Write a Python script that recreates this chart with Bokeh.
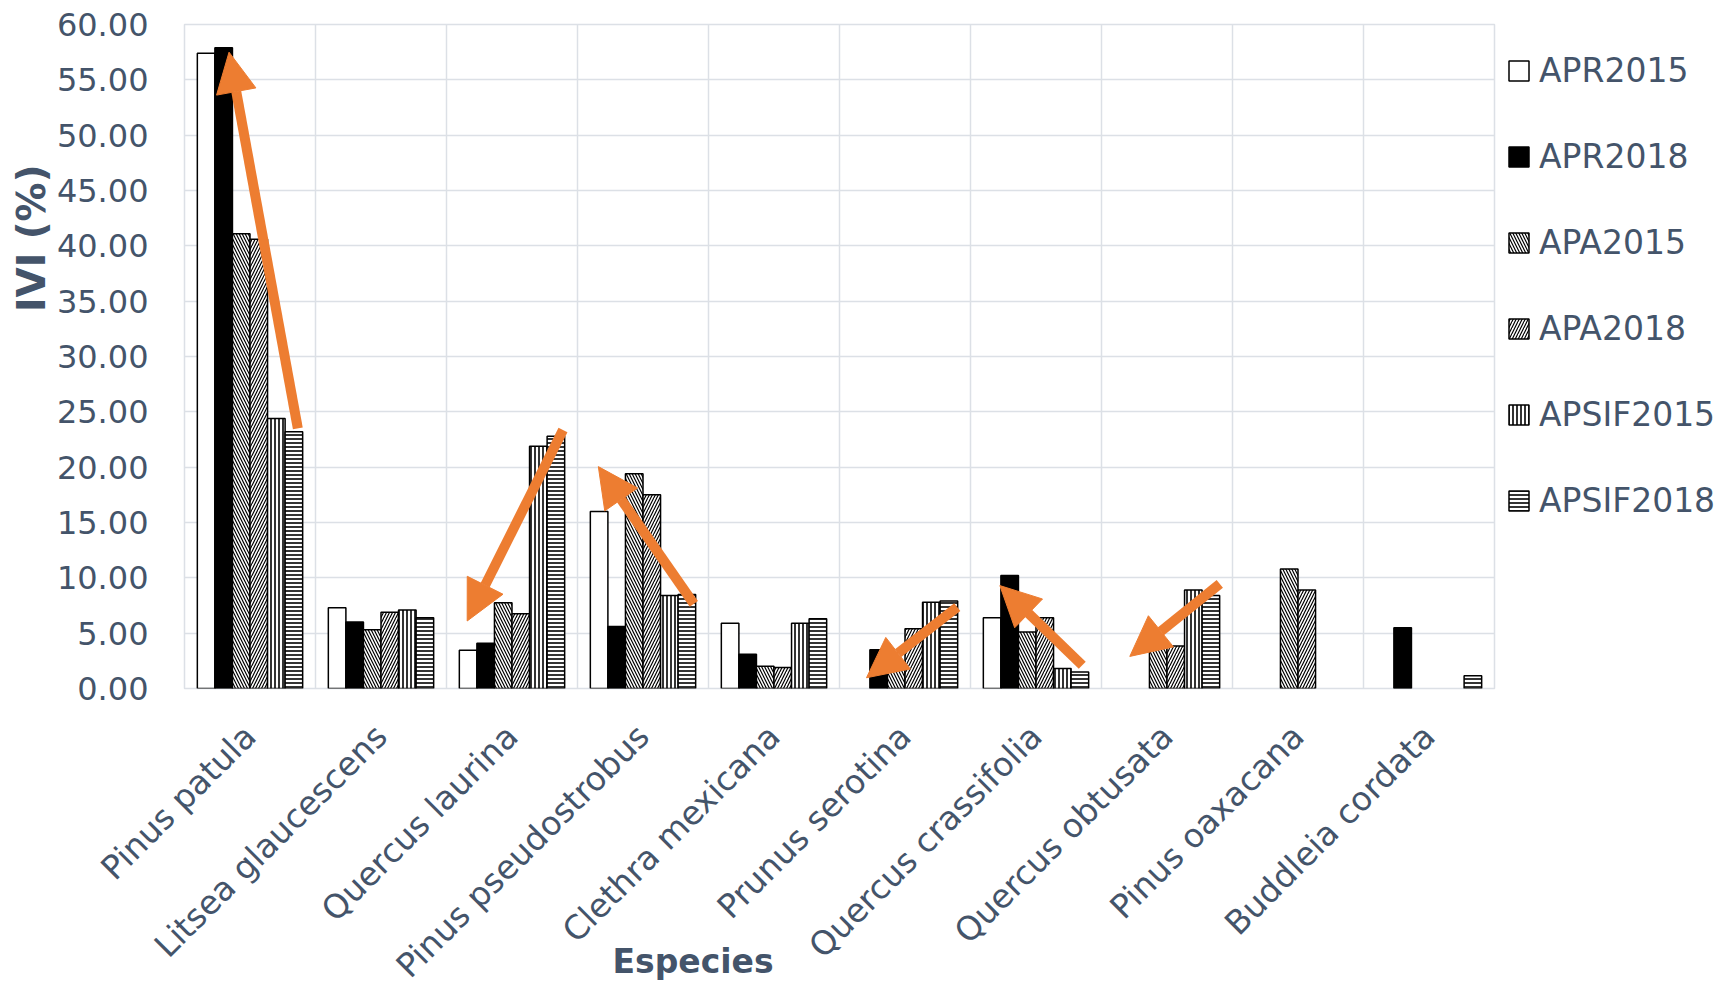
import math
from bokeh.plotting import figure
from bokeh.models import (ColumnDataSource, FactorRange, Range1d, SingleIntervalTicker,
                          NumeralTickFormatter, FixedTicker, Title, Arrow, NormalHead, Legend)
from bokeh.transform import dodge
from bokeh.embed import file_html
from bokeh.resources import INLINE

species = ["Pinus patula", "Litsea glaucescens", "Quercus laurina", "Pinus pseudostrobus",
           "Clethra mexicana", "Prunus serotina", "Quercus crassifolia", "Quercus obtusata",
           "Pinus oaxacana", "Buddleia cordata"]
series = ["APR2015", "APR2018", "APA2015", "APA2018", "APSIF2015", "APSIF2018"]
APR2015 = [57.4, 7.3, 3.45, 16.0, 5.9, 0.0, 6.4, 0.0, 0.0, 0.0]
APR2018 = [57.9, 6.0, 4.1, 5.6, 3.1, 3.5, 10.2, 0.0, 0.0, 5.5]
APA2015 = [41.1, 5.3, 7.75, 19.4, 2.0, 2.3, 5.1, 4.4, 10.8, 0.0]
APA2018 = [40.6, 6.9, 6.75, 17.5, 1.9, 5.4, 6.4, 3.85, 8.9, 0.0]
APSIF2015 = [24.4, 7.1, 21.9, 8.4, 5.9, 7.8, 1.8, 8.9, 0.0, 0.0]
APSIF2018 = [23.2, 6.4, 22.8, 8.5, 6.3, 7.9, 1.5, 8.4, 0.0, 1.15]
values = {"APR2015": APR2015, "APR2018": APR2018, "APA2015": APA2015,
          "APA2018": APA2018, "APSIF2015": APSIF2015, "APSIF2018": APSIF2018}

# trend arrows (annotations): species index + position within category, IVI value
arrow_species = [0, 2, 3, 5, 6, 7]
arrow_x0 = [0.865, 0.889, 0.888, 0.899, 0.853, 0.903]
arrow_y0 = [23.5, 23.35, 7.65, 7.35, 2.1, 9.45]
arrow_x1 = [0.34, 0.158, 0.159, 0.206, 0.224, 0.216]
arrow_y1 = [57.5, 6.1, 20.05, 0.97, 9.3, 2.9]

TXT = "#44546A"
GRID = "#DCE0E6"
FONT = "DejaVu Sans"
ORANGE = "#ED7D31"

data = {"species": species}
for s in series:
    data[s] = [v if v > 0 else float("nan") for v in values[s]]
src = ColumnDataSource(data)

p = figure(x_range=FactorRange(*species, range_padding=0, factor_padding=0),
           y_range=Range1d(0, 60), frame_width=1310, frame_height=664,
           min_border_left=184, min_border_top=24, min_border_right=226, min_border_bottom=296,
           output_backend="svg", toolbar_location=None)

styles = [
    dict(fill_color="white"),
    dict(fill_color="black"),
    dict(fill_color="white", hatch_pattern="\\", hatch_color="black", hatch_scale=6, hatch_weight=1.2),
    dict(fill_color="white", hatch_pattern="/", hatch_color="black", hatch_scale=6, hatch_weight=1.2),
    dict(fill_color="white", hatch_pattern="|", hatch_color="black", hatch_scale=4, hatch_weight=1.6),
    dict(fill_color="white", hatch_pattern="-", hatch_color="black", hatch_scale=4, hatch_weight=1.6),
]
w = 0.134
items = []
for k, s in enumerate(series):
    r = p.vbar(x=dodge("species", (k - 2.5) * w, range=p.x_range), top=s, bottom=0, width=w,
               source=src, line_color="black", line_width=1.5, **styles[k])
    items.append((s, [r]))

legend = Legend(items=items, location=(12, 168), orientation="vertical",
                label_text_font=FONT, label_text_font_size="33px", label_text_color=TXT,
                glyph_width=25, glyph_height=25, label_standoff=8, spacing=47,
                padding=0, margin=0, border_line_color=None, background_fill_alpha=0)
p.add_layout(legend, "right")

# arrows
asrc = ColumnDataSource(dict(
    x0=[i + f for i, f in zip(arrow_species, arrow_x0)], y0=arrow_y0,
    x1=[i + f for i, f in zip(arrow_species, arrow_x1)], y1=arrow_y1))
p.add_layout(Arrow(source=asrc, x_start="x0", y_start="y0", x_end="x1", y_end="y1",
                   line_color=ORANGE, line_width=10,
                   end=NormalHead(size=40, fill_color=ORANGE, line_color=ORANGE, line_width=1)))

# axes
p.yaxis.ticker = SingleIntervalTicker(interval=5, num_minor_ticks=0)
p.yaxis.formatter = NumeralTickFormatter(format="0.00")
for ax in (p.xaxis[0], p.yaxis[0]):
    ax.axis_line_color = None
    ax.major_tick_line_color = None
    ax.minor_tick_line_color = None
    ax.major_label_text_font = FONT
    ax.major_label_text_color = TXT
p.yaxis.major_label_text_font_size = "32px"
p.xaxis.major_label_text_font_size = "33px"
p.yaxis.major_label_standoff = 30
p.xaxis.major_label_orientation = math.pi / 4
p.xaxis.major_label_standoff = 36

p.ygrid.grid_line_color = GRID
p.ygrid.grid_line_width = 1.5
p.xgrid.ticker = FixedTicker(ticks=list(range(1, 10)))
p.xgrid.grid_line_color = GRID
p.xgrid.grid_line_width = 1.5
p.outline_line_color = GRID
p.outline_line_width = 1.5

p.add_layout(Title(text="IVI (%)", align="right", offset=140, standoff=0,
                   text_font=FONT, text_font_size="39px", text_font_style="bold",
                   text_color=TXT), "left")
p.add_layout(Title(text="Especies", align="left", offset=428, standoff=-120, vertical_align="top",
                   text_font=FONT, text_font_size="33px", text_font_style="bold",
                   text_color=TXT), "below")

open("out.html", "w").write(file_html(p, INLINE))
